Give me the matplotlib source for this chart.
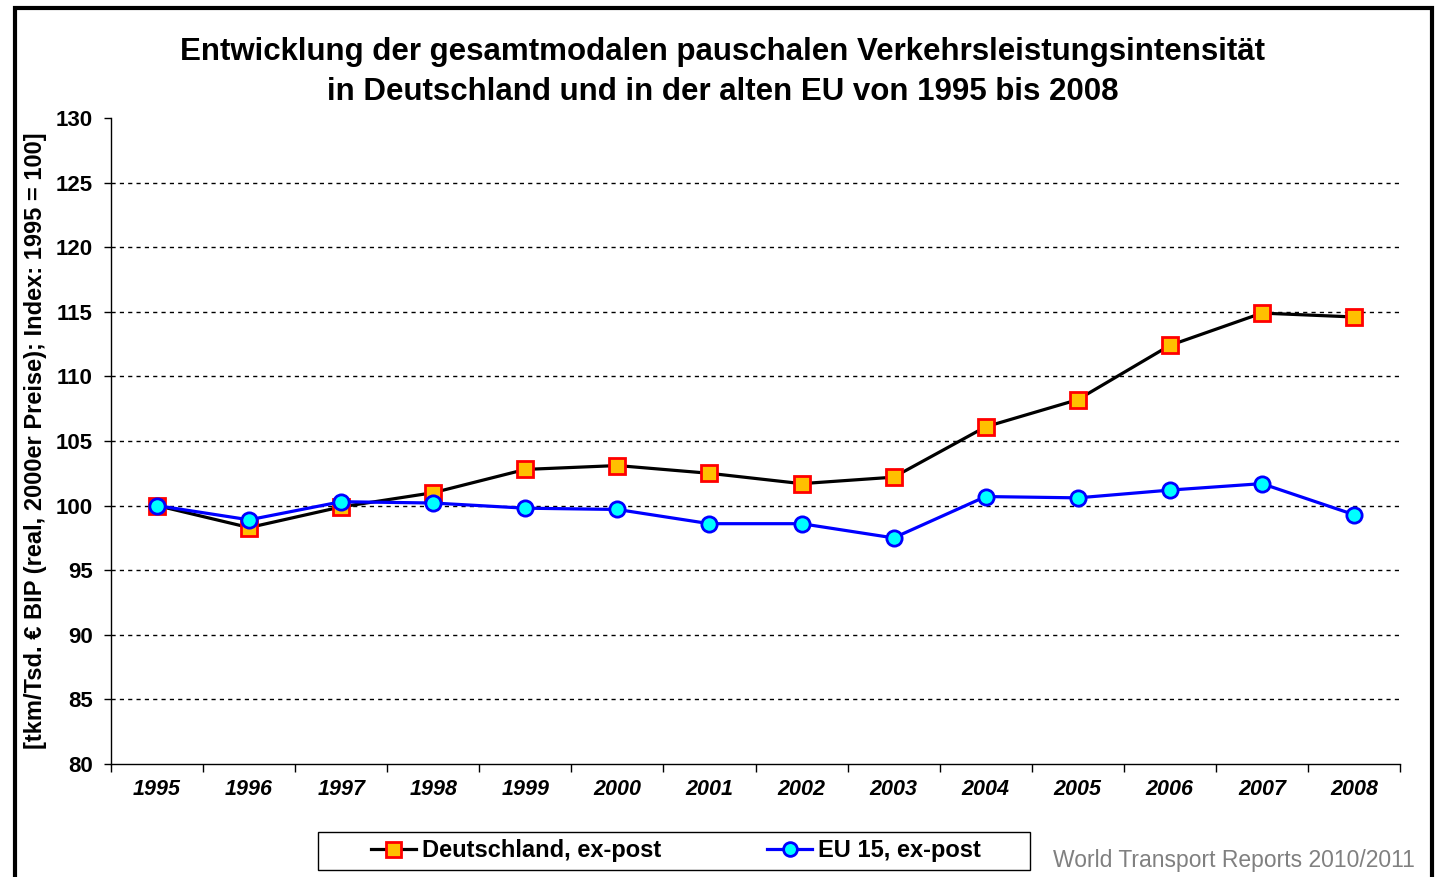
import matplotlib
matplotlib.use("Agg")
import matplotlib.pyplot as plt
from matplotlib.patches import Rectangle

plt.rcParams['font.family'] = ['Liberation Sans', 'DejaVu Sans']

years = ['1995', '1996', '1997', '1998', '1999', '2000', '2001',
         '2002', '2003', '2004', '2005', '2006', '2007', '2008']
deutschland = [100.0, 98.3, 99.9, 101.0, 102.8, 103.1, 102.5,
               101.7, 102.2, 106.1, 108.2, 112.4, 114.9, 114.6]
eu15 = [100.0, 98.9, 100.3, 100.2, 99.8, 99.7, 98.6,
        98.6, 97.5, 100.7, 100.6, 101.2, 101.7, 99.3]

W, H = 1435, 877
fig = plt.figure(figsize=(W/100, H/100), dpi=100)
ax = fig.add_axes([111/W, 1 - 764/H, (1400-111)/W, (764-118)/H])

# outer frame
fig.patches.append(Rectangle((15/W, -0.05), (1432-15)/W, 1.05 - 8/H,
                             transform=fig.transFigure, fill=False,
                             edgecolor='black', linewidth=3))

x = range(len(years))
ax.plot(x, deutschland, color='black', linewidth=2.3, marker='s', markersize=12,
        markerfacecolor='#FFC000', markeredgecolor='#FF0000', markeredgewidth=2,
        label='Deutschland, ex-post', zorder=3)
ax.plot(x, eu15, color='#0000FF', linewidth=2.3, marker='o', markersize=11,
        markerfacecolor='#00FFFF', markeredgecolor='#0000FF', markeredgewidth=2,
        label='EU 15, ex-post', zorder=4)

ax.set_xlim(-0.5, len(years) - 0.5)
ax.set_ylim(80, 130)
ax.set_yticks(range(80, 131, 5))
for v in range(85, 130, 5):
    ax.axhline(v, color='black', linestyle=(0, (3, 3)), linewidth=1, zorder=1)

ax.set_xticks([i - 0.5 for i in range(len(years) + 1)], minor=False)
ax.set_xticklabels([])
ax.set_xticks(list(x), minor=True)
ax.set_xticklabels(years, minor=True, fontsize=15.5, fontweight='bold', style='italic')
ax.tick_params(axis='x', which='major', length=6, width=1)
ax.tick_params(axis='x', which='minor', length=0, pad=11)
ax.tick_params(axis='y', length=5, width=1, labelsize=16, pad=8)
for t in ax.get_yticklabels():
    t.set_fontweight('bold')

for s in ['top', 'right']:
    ax.spines[s].set_visible(False)
ax.spines['left'].set_linewidth(1)
ax.spines['bottom'].set_linewidth(1)

ax.set_ylabel('[tkm/Tsd. € BIP (real, 2000er Preise); Index: 1995 = 100]',
              fontsize=17, fontweight='bold')
ax.yaxis.set_label_coords(-(111 - 47)/1289, 0.5)

fig.text(723/W, 1 - 52/H,
         'Entwicklung der gesamtmodalen pauschalen Verkehrsleistungsintensität',
         ha='center', va='center', fontsize=22.5, fontweight='bold')
fig.text(723/W, 1 - 92/H,
         'in Deutschland und in der alten EU von 1995 bis 2008',
         ha='center', va='center', fontsize=22.5, fontweight='bold')

# legend box
fig.patches.append(Rectangle((318/W, 1 - 870/H), (1030-318)/W, 38/H,
                             transform=fig.transFigure, fill=False,
                             edgecolor='black', linewidth=1))
leg = fig.legend(loc='center', bbox_to_anchor=(676/W, 1 - 851/H),
                 ncol=2, frameon=False,
                 prop={'size': 17, 'weight': 'bold'}, columnspacing=4.5,
                 handlelength=1.9, handletextpad=0.25, borderpad=0.2,
                 markerscale=0.9)

fig.text(1415/W, 1 - 860/H, 'World Transport Reports 2010/2011',
         ha='right', va='center', fontsize=16.5, color='#808080')

fig.savefig('out.png', dpi=100)
